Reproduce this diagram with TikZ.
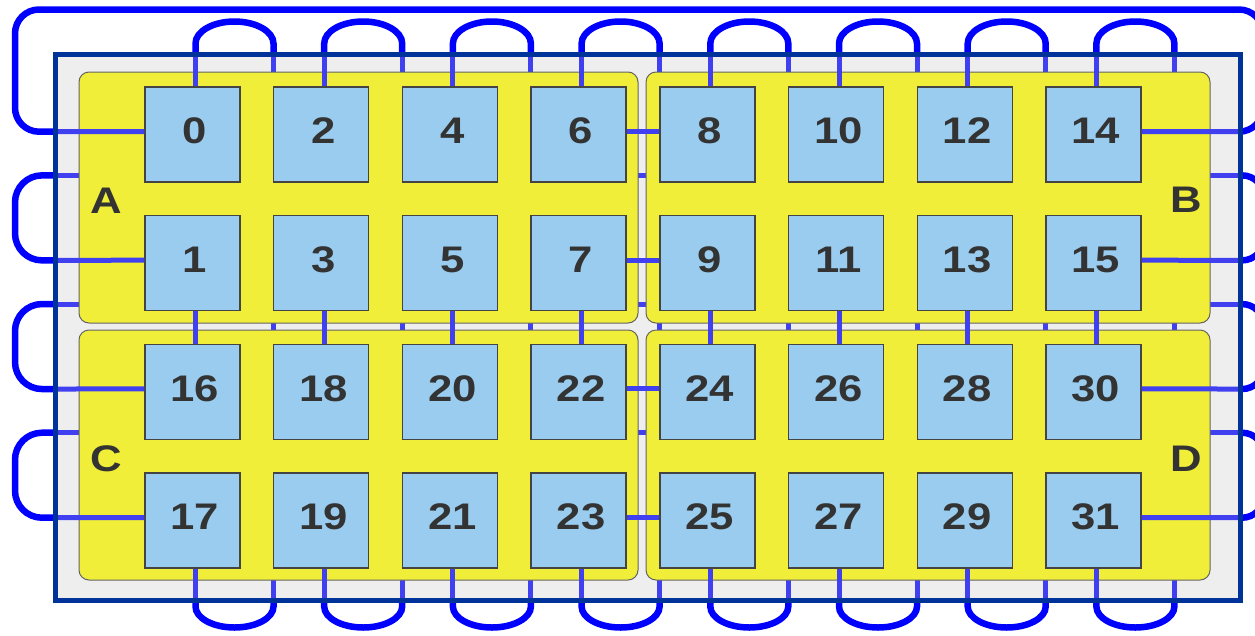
\documentclass[tikz,border=0pt]{standalone}
\usepackage{fontspec}
\newfontfamily\labfont{Liberation Sans}[FakeStretch=1.18]
\definecolor{frameblue}{RGB}{0,51,153}
\definecolor{bggray}{RGB}{238,238,238}
\definecolor{panelyellow}{RGB}{240,238,56}
\definecolor{panelline}{RGB}{100,100,100}
\definecolor{boxblue}{RGB}{153,204,238}
\definecolor{boxline}{RGB}{68,68,68}
\definecolor{txt}{RGB}{51,51,51}
\definecolor{innerblue}{RGB}{64,64,240}
\definecolor{outerblue}{RGB}{0,0,255}
\begin{document}
\begin{tikzpicture}[x=1pt,y=-1pt,
  box/.style={draw=boxline, fill=boxblue, line width=1.4pt, minimum size=95pt,
    inner sep=0pt, text=txt, font=\labfont\bfseries\fontsize{37}{40}\selectfont,
    text height=26.5pt, text depth=8pt, execute at begin node={\hspace*{5pt}}},
  plabel/.style={text=txt, inner sep=0pt, font=\labfont\bfseries\fontsize{37}{40}\selectfont},
  panel/.style={draw=panelline, fill=panelyellow, line width=1pt, rounded corners=10pt},
  inner/.style={draw=innerblue, line width=5pt},
  outer/.style={draw=outerblue, line width=6.5pt, rounded corners=22pt},
  arch/.style={draw=outerblue, line width=6.5pt, sharp corners},
  frame/.style={draw=frameblue, line width=5pt}]
\useasboundingbox (0,0) rectangle (1255,635);
\clip (0,0) rectangle (1255,635);
\fill[bggray] (55,54) rectangle (1240.5,600.5);
% ports on the frame
\foreach \i in {0,...,7}{
  \pgfmathsetmacro\lx{195.5+128.7*\i}
  \pgfmathsetmacro\sx{\lx+78}
  \coordinate (tp\i) at (\lx,54);
  \coordinate (ts\i) at (\sx,54);
  \coordinate (bp\i) at (\lx,600.5);
  \coordinate (bs\i) at (\sx,600.5);
}
\foreach \j in {0,...,3}{
  \pgfmathsetmacro\ly{131.7+128.67*\j}
  \coordinate (lp\j) at (55,\ly);
  \coordinate (rp\j) at (1240.5,\ly);
}
\foreach \j in {1,2,3}{
  \pgfmathsetmacro\sy{131.7+128.67*\j-85}
  \coordinate (ls\j) at (55,\sy);
  \coordinate (rs\j) at (1240.5,\sy);
}
% pass-through lines (mostly hidden under the panels)
\foreach \i in {0,...,7} \draw[inner] (ts\i) -- (bs\i);
\foreach \j in {1,2,3} \draw[inner] (ls\j) -- (rs\j);
% panels
\draw[panel] (79,72) rectangle (638,323);
\draw[panel] (646,72) rectangle (1210,323);
\draw[panel] (79,330) rectangle (638,580);
\draw[panel] (646,330) rectangle (1210,580);
% boxes
\foreach \j in {0,...,3}{
  \foreach \i in {0,...,7}{
    \pgfmathtruncatemacro\n{16*int(\j/2)+2*\i+mod(\j,2)}
    \node[box] (b\n) at ({192.5+128.7*\i},{134.5+128.67*\j}) {\n};
  }
}
% panel labels
\node[plabel] (lA) at (106,201) {A};
\node[plabel] (lB) at (1186.5,200) {B};
\node[plabel] (lC) at (106,459) {C};
\node[plabel] (lD) at (1186,459) {D};
% vertical connectors
\foreach \i in {0,...,7}{
  \pgfmathtruncatemacro\na{2*\i}
  \pgfmathtruncatemacro\nb{2*\i+1}
  \pgfmathtruncatemacro\nc{16+2*\i}
  \pgfmathtruncatemacro\nd{17+2*\i}
  \draw[inner] ([xshift=3pt]b\na.north) -- (tp\i);
  \draw[inner] ([xshift=3pt]b\nb.south) -- ([xshift=3pt]b\nc.north);
  \draw[inner] ([xshift=3pt]b\nd.south) -- (bp\i);
}
% horizontal connectors
\foreach \j in {0,...,3}{
  \pgfmathtruncatemacro\nw{16*int(\j/2)+mod(\j,2)}
  \pgfmathtruncatemacro\nx{\nw+6}
  \pgfmathtruncatemacro\ny{\nw+8}
  \pgfmathtruncatemacro\nz{\nw+14}
  \draw[inner] ([yshift=3pt]b\nw.west) -- (lp\j);
  \draw[inner] ([yshift=3pt]b\nx.east) -- ([yshift=3pt]b\ny.west);
  \draw[inner] ([yshift=3pt]b\nz.east) -- (rp\j);
}
% loops outside the frame
\foreach \i in {0,...,7}{
  \draw[arch] (tp\i) -- ++(0,-10.5)
    arc[start angle=180, end angle=0, x radius=39pt, y radius=22pt] -- (ts\i);
  \draw[arch] (bp\i) -- ++(0,6)
    arc[start angle=180, end angle=360, x radius=39pt, y radius=21pt] -- (bs\i);
}
\foreach \j in {1,2,3}{
  \draw[outer, rounded corners=27pt] (ls\j) -- ++(-40,0) |- (lp\j);
  \draw[outer] (rs\j) -- ++(23.5,0) |- (rp\j);
}
\draw[outer, rounded corners=24pt] (lp0) -- ++(-40,0) -- ++(0,-122.2) -- ++(1248,0) -- ++(0,122.2) -- (rp0);
% frame
\draw[frame] (55,54) rectangle (1240.5,600.5);
\end{tikzpicture}
\end{document}
